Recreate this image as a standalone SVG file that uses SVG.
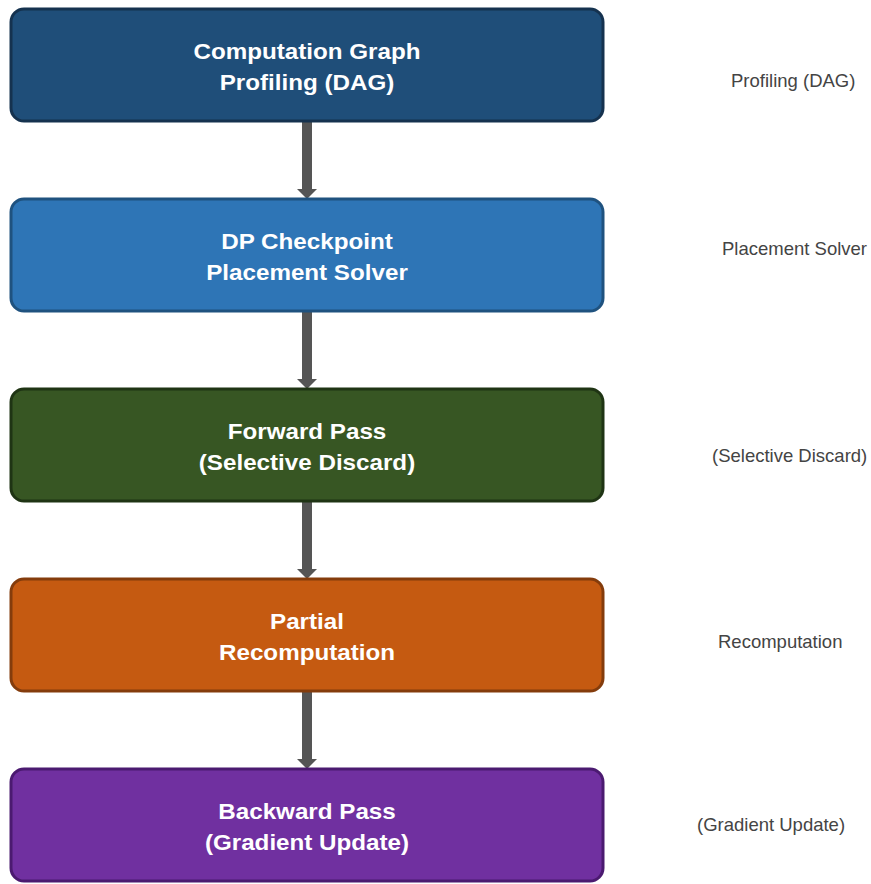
<svg xmlns="http://www.w3.org/2000/svg" width="871" height="884" viewBox="0 0 871 884">
<style>
.box{stroke-width:3}
.t{font-family:"Liberation Sans",Arial,sans-serif;font-weight:bold;font-size:22px;fill:#ffffff;text-anchor:middle}
.s{font-family:"Liberation Sans",Arial,sans-serif;font-size:18.5px;fill:#444444}
.shaft{fill:#555555}
</style>
<rect width="871" height="884" fill="#ffffff"/>
<g id="connectors">
<rect class="shaft" x="302" y="121" width="10" height="69"/>
<polygon class="shaft" points="297,189 317,189 307,199"/>
<rect class="shaft" x="302" y="311" width="10" height="69"/>
<polygon class="shaft" points="297,379 317,379 307,389"/>
<rect class="shaft" x="302" y="501" width="10" height="69"/>
<polygon class="shaft" points="297,569 317,569 307,579"/>
<rect class="shaft" x="302" y="691" width="10" height="69"/>
<polygon class="shaft" points="297,759 317,759 307,769"/>
</g>
<g id="node1">
<rect class="box" x="11" y="9" width="592" height="112" rx="13" fill="#1f4e79" stroke="#15324f"/>
<g transform="translate(307 0) scale(1.1 1)">
<text class="t" x="0" y="59">Computation Graph</text>
<text class="t" x="0" y="90">Profiling (DAG)</text>
</g>
</g>
<g id="node2">
<rect class="box" x="11" y="199" width="592" height="112" rx="13" fill="#2e75b6" stroke="#1f527f"/>
<g transform="translate(307 0) scale(1.1 1)">
<text class="t" x="0" y="249">DP Checkpoint</text>
<text class="t" x="0" y="280">Placement Solver</text>
</g>
</g>
<g id="node3">
<rect class="box" x="11" y="389" width="592" height="112" rx="13" fill="#375623" stroke="#1f3414"/>
<g transform="translate(307 0) scale(1.1 1)">
<text class="t" x="0" y="439">Forward Pass</text>
<text class="t" x="0" y="470">(Selective Discard)</text>
</g>
</g>
<g id="node4">
<rect class="box" x="11" y="579" width="592" height="112" rx="13" fill="#c55a11" stroke="#843c0c"/>
<g transform="translate(307 0) scale(1.1 1)">
<text class="t" x="0" y="629">Partial</text>
<text class="t" x="0" y="660">Recomputation</text>
</g>
</g>
<g id="node5">
<rect class="box" x="11" y="769" width="592" height="112" rx="13" fill="#7030a0" stroke="#4b1a70"/>
<g transform="translate(307 0) scale(1.1 1)">
<text class="t" x="0" y="819">Backward Pass</text>
<text class="t" x="0" y="850">(Gradient Update)</text>
</g>
</g>
<g id="side-labels">
<text class="s" x="731" y="87">Profiling (DAG)</text>
<text class="s" x="722" y="255">Placement Solver</text>
<text class="s" x="712" y="462">(Selective Discard)</text>
<text class="s" x="718" y="648">Recomputation</text>
<text class="s" x="697" y="831">(Gradient Update)</text>
</g>
</svg>
